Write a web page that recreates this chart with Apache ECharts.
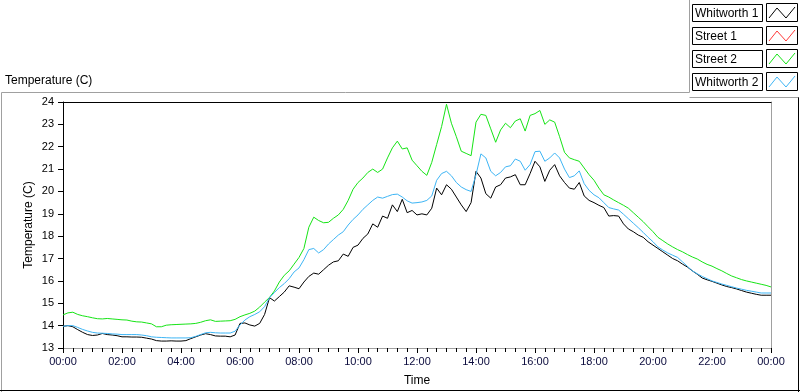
<!DOCTYPE html>
<html>
<head>
<meta charset="utf-8">
<script src="https://cdn.jsdelivr.net/npm/echarts@6/dist/echarts.min.js"></script>
<style>
html,body{margin:0;padding:0;background:#fff;}
#chart{width:800px;height:392px;}
</style>
</head>
<body>
<div id="chart"></div>
<script>
// ---- data (sampled every 10 minutes, 00:00 .. 24:00) ----
const sampleStepMinutes = 10;
const seriesNames = ['Whitworth 1', 'Street 1', 'Street 2', 'Whitworth 2'];
const seriesColors = ['#000000', '#ff3a3a', '#16e416', '#3db5f5'];

const whitworth1 = [
  13.97,14.0,13.95,13.82,13.7,13.6,13.56,13.58,13.65,13.6,13.58,13.55,
  13.5,13.5,13.49,13.49,13.48,13.44,13.4,13.33,13.31,13.31,13.32,13.31,
  13.31,13.33,13.42,13.5,13.58,13.64,13.6,13.54,13.53,13.53,13.5,13.58,
  14.1,14.12,14.03,13.98,14.1,14.5,15.25,15.1,15.3,15.5,15.78,15.72,
  15.65,15.95,16.2,16.35,16.3,16.5,16.7,16.85,16.9,17.2,17.1,17.5,
  17.6,17.9,18.1,18.55,18.4,18.9,18.8,19.4,19.1,19.65,19.05,19.15,
  18.95,19.0,18.95,19.25,20.15,19.85,20.3,20.1,19.75,19.4,19.1,19.5,
  20.9,20.6,19.9,19.7,20.2,20.3,20.6,20.65,20.75,20.3,20.3,20.8,
  21.35,21.1,20.45,20.95,21.2,20.7,20.4,20.15,20.1,20.4,19.8,19.6,
  19.5,19.38,19.28,18.9,18.92,18.9,18.55,18.32,18.2,18.05,17.95,17.75,
  17.6,17.45,17.3,17.15,17.0,16.9,16.75,16.62,16.45,16.3,16.13,16.05,
  15.98,15.9,15.82,15.75,15.7,15.64,15.57,15.5,15.45,15.4,15.36,15.36,
  15.36
];
const street1 = []; // no visible trace in the reference
const street2 = [
  14.48,14.57,14.6,14.5,14.44,14.4,14.35,14.31,14.3,14.32,14.3,14.28,
  14.26,14.25,14.2,14.17,14.16,14.12,14.08,13.95,13.95,14.02,14.04,14.05,
  14.06,14.07,14.08,14.1,14.15,14.22,14.26,14.19,14.2,14.21,14.22,14.28,
  14.4,14.48,14.55,14.65,14.83,15.05,15.26,15.55,15.95,16.25,16.45,16.75,
  17.05,17.45,18.4,18.85,18.7,18.6,18.62,18.8,18.95,19.2,19.6,20.1,
  20.4,20.6,20.85,21.0,20.85,21.0,21.5,21.95,22.25,21.9,21.95,21.4,
  21.15,20.9,20.72,21.3,22.1,22.9,23.9,23.05,22.45,21.8,21.7,21.6,
  23.1,23.45,23.4,22.8,22.2,22.75,23.05,22.85,23.15,23.25,22.7,23.4,
  23.48,23.62,23.0,23.2,23.1,22.45,21.75,21.5,21.42,21.35,21.05,20.75,
  20.5,20.15,19.85,19.75,19.62,19.5,19.38,19.25,19.05,18.85,18.65,18.42,
  18.2,17.95,17.8,17.65,17.52,17.4,17.3,17.18,17.07,16.98,16.85,16.74,
  16.66,16.55,16.45,16.33,16.22,16.14,16.06,16.0,15.95,15.9,15.85,15.8,
  15.73
];
const whitworth2 = [
  13.97,14.0,14.0,13.92,13.83,13.76,13.7,13.67,13.66,13.65,13.63,13.62,
  13.6,13.6,13.6,13.6,13.58,13.55,13.5,13.48,13.47,13.46,13.45,13.45,
  13.45,13.45,13.46,13.52,13.6,13.68,13.7,13.68,13.67,13.67,13.67,13.75,
  14.03,14.25,14.4,14.5,14.62,14.85,15.25,15.48,15.7,15.88,16.1,16.4,
  16.58,16.95,17.4,17.45,17.25,17.4,17.65,17.85,18.05,18.2,18.5,18.75,
  18.95,19.2,19.4,19.6,19.75,19.7,19.78,19.86,19.88,19.75,19.58,19.48,
  19.5,19.53,19.6,19.8,20.5,20.8,20.9,20.7,20.4,20.2,20.08,20.0,
  20.75,21.68,21.5,20.9,20.7,20.85,21.1,21.15,21.45,21.35,20.95,21.2,
  21.78,21.8,21.35,21.5,21.72,21.5,21.0,20.62,20.7,20.92,20.35,20.05,
  19.85,19.72,19.5,19.28,19.22,19.17,18.98,18.78,18.58,18.38,18.17,17.95,
  17.75,17.52,17.38,17.25,17.15,17.05,16.85,16.65,16.45,16.32,16.2,16.1,
  16.0,15.93,15.86,15.8,15.74,15.68,15.63,15.58,15.54,15.5,15.46,15.46,
  15.46
];
const seriesValues = [whitworth1, street1, street2, whitworth2];

const yMin = 13, yMax = 24, yStep = 1;
const xMin = 0, xMax = 1440, xStep = 120; // minutes

// ---- chart ----
const FONT = 'Liberation Sans';
function hhmm(v) {
  const m = ((v % 1440) + 1440) % 1440;
  const h = Math.floor(m / 60), mm = m % 60;
  return String(h).padStart(2, '0') + ':' + String(mm).padStart(2, '0');
}
function toPairs(arr) { return arr.map((v, i) => [i * sampleStepMinutes, v]); }

const legendGraphics = [];
seriesNames.forEach((name, i) => {
  const y0 = 4 + i * 23;
  legendGraphics.push({
    type: 'rect', silent: true,
    shape: { x: 692.5, y: y0 + 0.5, width: 70, height: 17 },
    style: { fill: '#fff', stroke: '#000', lineWidth: 1 }
  });
  legendGraphics.push({
    type: 'text', silent: true, x: 695, y: y0 + 9.5,
    style: { text: name, fill: '#000', font: '12px ' + FONT, verticalAlign: 'middle', align: 'left' }
  });
  legendGraphics.push({
    type: 'rect', silent: true,
    shape: { x: 766.5, y: y0 - 0.5, width: 31, height: 18 },
    style: { fill: '#fff', stroke: '#000', lineWidth: 1 }
  });
  legendGraphics.push({
    type: 'polyline', silent: true,
    shape: { points: [[769, y0 + 14], [777, y0 + 4], [786, y0 + 14], [795, y0 + 3]] },
    style: { stroke: seriesColors[i], lineWidth: 1, fill: null }
  });
});

const frameGraphics = [
  { type: 'polyline', silent: true, shape: { points: [[1.5, 392], [1.5, 92.5], [689.5, 92.5], [689.5, 0]] },
    style: { stroke: '#a0a0a0', lineWidth: 1, fill: null } },
  { type: 'line', silent: true, shape: { x1: 689.5, y1: 97.5, x2: 799, y2: 97.5 },
    style: { stroke: '#a0a0a0', lineWidth: 1 } },
  { type: 'line', silent: true, shape: { x1: 798.5, y1: 97.5, x2: 798.5, y2: 392 },
    style: { stroke: '#000', lineWidth: 1 } },
  { type: 'line', silent: true, shape: { x1: 0, y1: 390.5, x2: 800, y2: 390.5 },
    style: { stroke: '#000', lineWidth: 1 } }
];

const chart = echarts.init(document.getElementById('chart'), null, { renderer: 'canvas' });
chart.setOption({
  animation: false,
  backgroundColor: '#fff',
  title: {
    text: 'Temperature (C)', left: 0, top: 75,
    textStyle: { fontFamily: FONT, fontSize: 12, fontWeight: 'normal', color: '#000' },
    padding: [0, 0, 0, 5]
  },
  grid: { left: 63, top: 102, width: 708, height: 250, containLabel: false },
  xAxis: [{
    type: 'value', min: xMin, max: xMax, interval: xStep,
    name: 'Time', nameLocation: 'middle', nameGap: 27, nameMoveOverlap: false,
    nameTextStyle: { fontFamily: FONT, fontSize: 12, color: '#000' },
    axisLine: { show: true, onZero: false, lineStyle: { color: '#a0a0a0', width: 1 } },
    axisTick: { show: true, length: 5, lineStyle: { color: '#000', width: 1 } },
    minorTick: { show: true, splitNumber: 6, length: 4, lineStyle: { color: '#000', width: 1 } },
    splitLine: { show: false },
    axisLabel: { formatter: hhmm, fontFamily: FONT, fontSize: 11, color: '#0a0a3c', margin: 8 }
  }, {
    type: 'value', min: xMin, max: xMax, position: 'top',
    axisLine: { show: true, onZero: false, lineStyle: { color: '#000', width: 1 } },
    axisTick: { show: false }, axisLabel: { show: false }, splitLine: { show: false }
  }],
  yAxis: [{
    type: 'value', min: yMin, max: yMax, interval: yStep,
    name: 'Temperature (C)', nameLocation: 'middle', nameGap: 28, nameRotate: 90, nameMoveOverlap: false,
    nameTextStyle: { fontFamily: FONT, fontSize: 12, color: '#000' },
    axisLine: { show: true, onZero: false, lineStyle: { color: '#000', width: 1 } },
    axisTick: { show: true, length: 5, lineStyle: { color: '#000', width: 1 } },
    splitLine: { show: false },
    axisLabel: { fontFamily: FONT, fontSize: 11, color: '#000', margin: 9 }
  }, {
    type: 'value', min: yMin, max: yMax, position: 'right',
    axisLine: { show: true, onZero: false, lineStyle: { color: '#a0a0a0', width: 1 } },
    axisTick: { show: false }, axisLabel: { show: false }, splitLine: { show: false }
  }],
  series: seriesNames.map((name, i) => ({
    name: name, type: 'line', xAxisIndex: 0, yAxisIndex: 0,
    data: toPairs(seriesValues[i]),
    showSymbol: false, symbol: 'none',
    lineStyle: { color: seriesColors[i], width: 1 },
    itemStyle: { color: seriesColors[i] },
    emphasis: { disabled: true },
    z: [2, 3, 4, 5][i]
  })),
  graphic: frameGraphics.concat(legendGraphics)
});
</script>
</body>
</html>
